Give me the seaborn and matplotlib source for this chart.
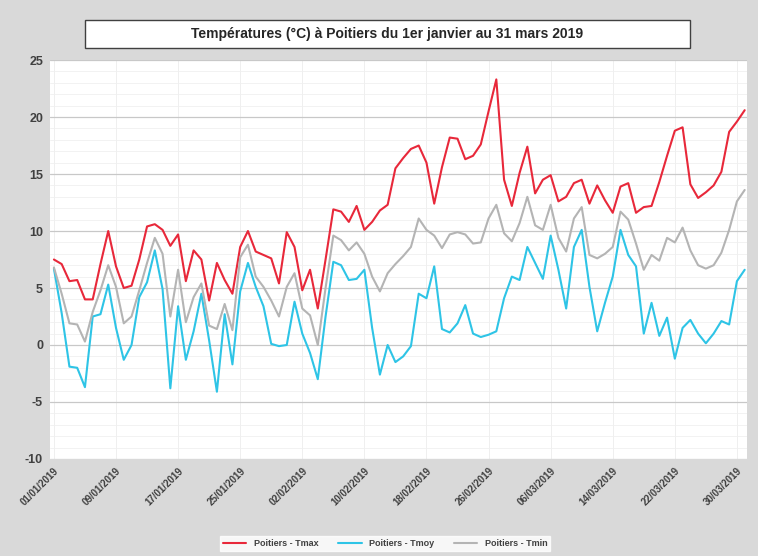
import pandas as pd
import matplotlib.pyplot as plt
import matplotlib.patches as patches
from matplotlib.ticker import MultipleLocator
import seaborn as sns

# Températures journalières Poitiers, 1er janvier -> 31 mars 2019
dates = pd.date_range('2019-01-01', '2019-03-31', freq='D')

tmax = [7.5, 7.1, 5.6, 5.7, 4.0, 4.0, 7.1, 10.0, 6.9, 5.0,
        5.2, 7.5, 10.4, 10.6, 10.1, 8.7, 9.7, 5.6, 8.3, 7.5,
        3.9, 7.2, 5.7, 4.5, 8.6, 10.0, 8.2, 7.9, 7.6, 5.4,
        9.9, 8.6, 4.8, 6.6, 3.2, 7.5, 11.9, 11.7, 10.8, 12.2,
        10.1, 10.8, 11.8, 12.3, 15.5, 16.4, 17.2, 17.5, 16.0, 12.4,
        15.6, 18.2, 18.1, 16.3, 16.6, 17.6, 20.5, 23.3, 14.5, 12.2,
        15.1, 17.4, 13.3, 14.5, 14.9, 12.6, 13.0, 14.2, 14.5, 12.4,
        14.0, 12.7, 11.6, 13.9, 14.2, 11.6, 12.1, 12.2, 14.3, 16.6,
        18.8, 19.1, 14.1, 12.9, 13.4, 14.0, 15.2, 18.7, 19.6, 20.6]

tmoy = [6.7, 2.8, -1.9, -2.0, -3.7, 2.5, 2.7, 5.3, 1.5, -1.3,
        0.0, 4.2, 5.5, 8.3, 4.9, -3.8, 3.4, -1.3, 1.2, 4.5,
        0.4, -4.1, 2.7, -1.7, 4.7, 7.2, 5.1, 3.4, 0.1, -0.1,
        0.0, 3.8, 1.0, -0.7, -3.0, 2.5, 7.3, 7.0, 5.7, 5.8,
        6.6, 1.5, -2.6, 0.0, -1.5, -1.0, -0.1, 4.5, 4.1, 6.9,
        1.4, 1.1, 1.9, 3.5, 1.0, 0.7, 0.9, 1.2, 4.1, 6.0,
        5.7, 8.6, 7.2, 5.8, 9.6, 6.6, 3.2, 8.6, 10.1, 5.1,
        1.2, 3.7, 6.0, 10.1, 7.9, 6.9, 1.0, 3.7, 0.8, 2.4,
        -1.2, 1.5, 2.2, 1.0, 0.15, 1.0, 2.1, 1.8, 5.6, 6.6]

tmin = [6.8, 4.5, 1.9, 1.8, 0.3, 2.9, 4.8, 7.0, 5.1, 1.9,
        2.5, 4.8, 7.2, 9.4, 8.0, 2.5, 6.6, 2.0, 4.2, 5.4,
        1.7, 1.4, 3.6, 1.3, 7.7, 8.8, 6.0, 5.1, 3.9, 2.5,
        5.1, 6.3, 3.2, 2.6, 0.0, 5.0, 9.6, 9.2, 8.3, 9.0,
        8.0, 6.0, 4.7, 6.3, 7.1, 7.8, 8.6, 11.1, 10.1, 9.6,
        8.5, 9.7, 9.9, 9.7, 8.9, 9.0, 11.1, 12.3, 9.8, 9.1,
        10.7, 13.0, 10.5, 10.1, 12.3, 9.4, 8.2, 11.1, 12.1, 7.9,
        7.6, 8.0, 8.6, 11.7, 11.0, 8.9, 6.6, 7.9, 7.4, 9.4,
        9.0, 10.3, 8.3, 7.0, 6.7, 7.0, 8.1, 10.1, 12.6, 13.6]

series = ['Poitiers - Tmax', 'Poitiers - Tmoy', 'Poitiers - Tmin']
colors = ['#e8283a', '#2ec4e6', '#b4b4b4']

df = pd.DataFrame({'jour': range(len(dates)),
                   series[0]: tmax, series[1]: tmoy, series[2]: tmin})
long = df.melt(id_vars='jour', var_name='serie', value_name='temp')

sns.set_theme(style='white')
plt.rcParams['font.family'] = ['Liberation Sans', 'DejaVu Sans']
plt.rcParams['axes.unicode_minus'] = False

fig = plt.figure(figsize=(7.58, 5.56), dpi=100, facecolor='#d9d9d9')
ax = fig.add_axes([0.066, 0.1745, 0.9195, 0.7175])
ax.set_facecolor('white')

sns.lineplot(data=long, x='jour', y='temp', hue='serie', hue_order=series,
             palette=dict(zip(series, colors)), linewidth=1.5, ax=ax)

# axes
ax.set_xlim(-0.5, 89.3)
ax.set_ylim(-10, 25)
ax.yaxis.set_major_locator(MultipleLocator(5))
ax.yaxis.set_minor_locator(MultipleLocator(1))
ticks = list(range(0, len(dates), 8))
ax.set_xticks(ticks)
ax.set_xticklabels([dates[i].strftime('%d/%m/%Y') for i in ticks],
                   rotation=45, ha='right', rotation_mode='anchor',
                   fontsize=7, fontweight='bold', color='#404040')
for lab in ax.get_yticklabels():
    lab.set_fontweight('bold')
    lab.set_fontsize(9)
    lab.set_color('#404040')
ax.tick_params(axis='both', length=0, pad=5)
ax.grid(axis='y', which='major', color='#c8c8c8', linewidth=0.9)
ax.grid(axis='y', which='minor', color='#f0f0f0', linewidth=0.6)
ax.grid(axis='x', which='major', color='#ececec', linewidth=0.6)
ax.set_axisbelow(True)
ax.set_xlabel('')
ax.set_ylabel('')
for s in ax.spines.values():
    s.set_visible(False)

# titre dans un cadre
fig.patches.append(patches.Rectangle((0.112, 0.914), 0.798, 0.050,
                                     transform=fig.transFigure,
                                     facecolor='white', edgecolor='#404040',
                                     linewidth=1.0))
fig.text(0.511, 0.939, 'Températures (°C) à Poitiers du 1er janvier au 31 mars 2019',
         ha='center', va='center', fontsize=10, fontweight='bold', color='#262626')

# légende en bas
handles, labels = ax.get_legend_handles_labels()
ax.get_legend().remove()
leg = fig.legend(handles, labels, loc='center', bbox_to_anchor=(0.508, 0.022),
                 ncol=3, fontsize=6.5, frameon=True, fancybox=False,
                 handlelength=2.6, columnspacing=2.2, borderpad=0.35)
leg.get_frame().set_facecolor('white')
leg.get_frame().set_edgecolor('white')
for t in leg.get_texts():
    t.set_fontweight('bold')
    t.set_color('#404040')

plt.savefig('out.png', dpi=100, facecolor=fig.get_facecolor())
